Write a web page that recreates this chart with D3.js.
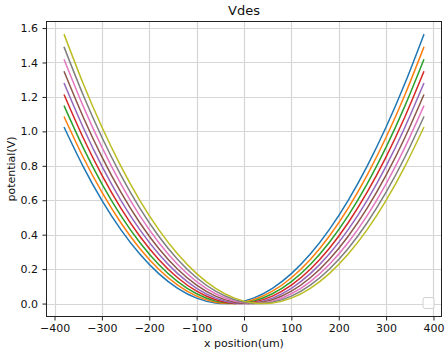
<!DOCTYPE html>
<html>
<head>
<meta charset="utf-8">
<script src="https://cdn.jsdelivr.net/npm/d3@7"></script>
<style>
  html, body { margin: 0; padding: 0; background: #fff; }
  svg { display: block; font-family: "DejaVu Sans", sans-serif; }
</style>
</head>
<body>
<svg id="chart" width="448" height="355"></svg>
<script>
const xs = [-380, -340, -300, -260, -220, -180, -140, -100, -60, -20, 20, 60, 100, 140, 180, 220, 260, 300, 340, 380];

const blue   = [1.0254, 0.7983, 0.5996, 0.4293, 0.2874, 0.1739, 0.0887, 0.0319, 0.0035, 0.0035, 0.0319, 0.0887, 0.1739, 0.2874, 0.4293, 0.5996, 0.7983, 1.0254, 1.2808, 1.5647];
const orange = [1.0866, 0.8524, 0.6466, 0.4692, 0.3202, 0.1996, 0.1073, 0.0435, 0.0080, 0.0009, 0.0222, 0.0718, 0.1499, 0.2563, 0.3912, 0.5544, 0.7460, 0.9659, 1.2143, 1.4910];
const green  = [1.1496, 0.9083, 0.6954, 0.5109, 0.3548, 0.2271, 0.1277, 0.0568, 0.0142, 0.0000, 0.0142, 0.0568, 0.1277, 0.2271, 0.3548, 0.5109, 0.6954, 0.9083, 1.1496, 1.4192];
const red    = [1.2143, 0.9659, 0.7460, 0.5544, 0.3912, 0.2563, 0.1499, 0.0718, 0.0222, 0.0009, 0.0080, 0.0435, 0.1073, 0.1996, 0.3202, 0.4692, 0.6466, 0.8524, 1.0866, 1.3491];
const purple = [1.2808, 1.0254, 0.7983, 0.5996, 0.4293, 0.2874, 0.1739, 0.0887, 0.0319, 0.0035, 0.0035, 0.0319, 0.0887, 0.1739, 0.2874, 0.4293, 0.5996, 0.7983, 1.0254, 1.2808];
const brown  = [1.3491, 1.0866, 0.8524, 0.6466, 0.4692, 0.3202, 0.1996, 0.1073, 0.0435, 0.0080, 0.0009, 0.0222, 0.0718, 0.1499, 0.2563, 0.3912, 0.5544, 0.7460, 0.9659, 1.2143];
const pink   = [1.4192, 1.1496, 0.9083, 0.6954, 0.5109, 0.3548, 0.2271, 0.1277, 0.0568, 0.0142, 0.0000, 0.0142, 0.0568, 0.1277, 0.2271, 0.3548, 0.5109, 0.6954, 0.9083, 1.1496];
const gray   = [1.4910, 1.2143, 0.9659, 0.7460, 0.5544, 0.3912, 0.2563, 0.1499, 0.0718, 0.0222, 0.0009, 0.0080, 0.0435, 0.1073, 0.1996, 0.3202, 0.4692, 0.6466, 0.8524, 1.0866];
const olive  = [1.5647, 1.2808, 1.0254, 0.7983, 0.5996, 0.4293, 0.2874, 0.1739, 0.0887, 0.0319, 0.0035, 0.0035, 0.0319, 0.0887, 0.1739, 0.2874, 0.4293, 0.5996, 0.7983, 1.0254];

const series = [blue, orange, green, red, purple, brown, pink, gray, olive];
const colors = ["#1f77b4", "#ff7f0e", "#2ca02c", "#d62728", "#9467bd", "#8c564b", "#e377c2", "#7f7f7f", "#bcbd22"];

const xTicks = [-400, -300, -200, -100, 0, 100, 200, 300, 400];
const yTicks = [0.0, 0.2, 0.4, 0.6, 0.8, 1.0, 1.2, 1.4, 1.6];

const svg = d3.select("#chart");
const mLeft = 46, mRight = 442, mTop = 21, mBottom = 317;

const xScale = d3.scaleLinear().domain([-418, 418]).range([mLeft, mRight]);
const yScale = d3.scaleLinear().domain([-0.078, 1.641]).range([mBottom, mTop]);

// grid
const grid = svg.append("g");
grid.selectAll("line.gx").data(xTicks).join("line")
	.attr("x1", d => Math.round(xScale(d)) + 0.5)
	.attr("x2", d => Math.round(xScale(d)) + 0.5)
	.attr("y1", mTop)
	.attr("y2", mBottom)
	.attr("stroke", "#d6d6d6")
	.attr("stroke-width", 1.2);
grid.selectAll("line.gy").data(yTicks).join("line")
	.attr("x1", mLeft)
	.attr("x2", mRight)
	.attr("y1", d => Math.round(yScale(d)) + 0.5)
	.attr("y2", d => Math.round(yScale(d)) + 0.5)
	.attr("stroke", "#d6d6d6")
	.attr("stroke-width", 1.2);

// curves
const line = d3.line()
	.x((d, i) => xScale(xs[i]))
	.y(d => yScale(d))
	.curve(d3.curveNatural);

svg.append("g").selectAll("path").data(series).join("path")
	.attr("d", d => line(d))
	.attr("fill", "none")
	.attr("stroke", (d, i) => colors[i])
	.attr("stroke-width", 1.5);

// legend (empty)
svg.append("rect")
	.attr("x", 423)
	.attr("y", 297.5)
	.attr("width", 11)
	.attr("height", 11)
	.attr("rx", 2)
	.attr("fill", "white")
	.attr("fill-opacity", 0.8)
	.attr("stroke", "#d0d0d0")
	.attr("stroke-width", 1);

// axes
const xAxis = d3.axisBottom(xScale).tickValues(xTicks).tickSize(3.5).tickPadding(3.5).tickFormat(d3.format("d"));
const yAxis = d3.axisLeft(yScale).tickValues(yTicks).tickSize(3.5).tickPadding(4.5).tickFormat(d3.format(".1f"));

const gx = svg.append("g").attr("transform", `translate(0,${mBottom})`).call(xAxis);
const gy = svg.append("g").attr("transform", `translate(${mLeft},0)`).call(yAxis);
[gx, gy].forEach(g => {
	g.select(".domain").remove();
	g.selectAll(".tick line").attr("stroke", "#222").attr("stroke-width", 1);
	g.selectAll(".tick text").attr("fill", "#111").attr("font-size", "11px").attr("font-family", "DejaVu Sans");
});

svg.append("rect")
	.attr("x", mLeft + 0.5)
	.attr("y", mTop + 0.5)
	.attr("width", mRight - mLeft - 1)
	.attr("height", mBottom - mTop - 1)
	.attr("fill", "none")
	.attr("stroke", "#222")
	.attr("stroke-width", 1);

// labels
svg.append("text")
	.attr("x", (mLeft + mRight) / 2)
	.attr("y", 15)
	.attr("text-anchor", "middle")
	.attr("font-size", "13px")
	.attr("fill", "#111")
	.text("Vdes");
svg.append("text")
	.attr("x", (mLeft + mRight) / 2)
	.attr("y", 346.5)
	.attr("text-anchor", "middle")
	.attr("font-size", "11px")
	.attr("fill", "#111")
	.text("x position(um)");
svg.append("text")
	.attr("transform", `translate(15,${(mTop + mBottom) / 2}) rotate(-90)`)
	.attr("text-anchor", "middle")
	.attr("font-size", "11px")
	.attr("fill", "#111")
	.text("potential(V)");
</script>
</body>
</html>
